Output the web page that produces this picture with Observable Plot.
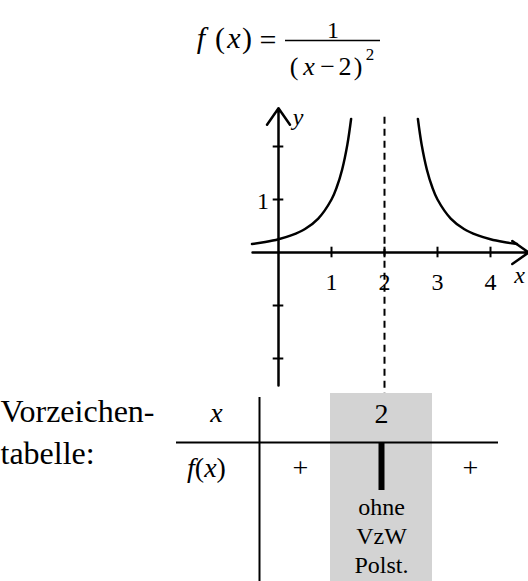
<!DOCTYPE html>
<html><head><meta charset="utf-8">
<script src="https://cdn.jsdelivr.net/npm/d3@7"></script>
<script src="https://cdn.jsdelivr.net/npm/@observablehq/plot@0.6"></script>
<style>
body{margin:0;background:#fff;}
#wrap{position:relative;width:528px;height:581px;overflow:hidden;font-family:'Liberation Serif','Times New Roman',serif;}
#formula{position:absolute;left:0;top:0;font-family:'Liberation Serif','Times New Roman',serif;}
#graph{position:absolute;left:0;top:85px;}
#table{position:absolute;left:0;top:393px;}
</style></head>
<body>
<div id="wrap">
<svg id="formula" width="528" height="85">
  <text x="201" y="48" font-size="30" font-style="italic" text-anchor="middle">f</text>
  <text x="220" y="48" font-size="30" text-anchor="middle">(</text>
  <text x="234" y="48" font-size="30" font-style="italic" text-anchor="middle">x</text>
  <text x="247" y="48" font-size="30" text-anchor="middle">)</text>
  <text x="268" y="50" font-size="30" text-anchor="middle">=</text>
  <line x1="285" x2="380" y1="40.5" y2="40.5" stroke="#000" stroke-width="1.6"/>
  <text x="333" y="38" font-size="24" text-anchor="middle">1</text>
  <text x="294" y="75" font-size="26" text-anchor="middle">(</text>
  <text x="309" y="75" font-size="26" font-style="italic" text-anchor="middle">x</text>
  <text x="327.5" y="75" font-size="26" text-anchor="middle">−</text>
  <text x="345" y="75" font-size="26" text-anchor="middle">2</text>
  <text x="358" y="75" font-size="26" text-anchor="middle">)</text>
  <text x="370" y="60" font-size="17" text-anchor="middle">2</text>
</svg>
<div id="graph"></div>
<div id="table"></div>
</div>
<script>
// Function values f(x) = 1/(x-2)^2, read along the two branches
const leftX  = [-0.5, -0.25, 0, 0.25, 0.5, 0.75, 1, 1.1, 1.2, 1.3, 1.37];
const leftY  = [0.16, 0.198, 0.25, 0.327, 0.444, 0.64, 1, 1.235, 1.5625, 2.04, 2.52];
const rightX = [2.63, 2.7, 2.8, 2.9, 3, 3.25, 3.5, 3.75, 4, 4.25, 4.5];
const rightY = [2.52, 2.04, 1.5625, 1.235, 1, 0.64, 0.444, 0.327, 0.25, 0.198, 0.16];
const xTicks = [1, 2, 3, 4];
const xTickLabels = ["1", "2", "3", "4"];
const yTicks = [-2, -1, 1, 2];
const yTickLabels = [{v: 1, label: "1"}];
const pole = 2;

// Sign table content
const headerLabels = ["x", "2"];
const signRowLabel = "f(x)";
const signs = ["+", "+"];
const poleNote = ["ohne", "VzW", "Polst."];
const tableTitle = ["Vorzeichen-", "tabelle:"];

const unit = 53;
const W = 528;
const xDomain = [-278 / unit, 250 / unit];
const font = "'Liberation Serif', 'Times New Roman', serif";

const points = [
  ...leftX.map((x, i) => ({x, y: leftY[i], b: "L"})),
  ...rightX.map((x, i) => ({x, y: rightY[i], b: "R"}))
];

const H1 = 308;
const yBottom = -(H1 - 167) / unit;
const graph = Plot.plot({
  width: W, height: H1,
  marginTop: 0, marginBottom: 0, marginLeft: 0, marginRight: 0,
  x: {domain: xDomain, axis: null},
  y: {domain: [yBottom, 167 / unit], axis: null},
  style: {fontFamily: font, background: "transparent", overflow: "visible"},
  marks: [
    Plot.ruleX([pole], {y1: 2.55, y2: yBottom, stroke: "#000", strokeWidth: 2, strokeDasharray: "7,5"}),
    Plot.arrow([0], {x1: -0.49, x2: 4.72, y1: 0, y2: 0, stroke: "#000", strokeWidth: 2.5, headLength: 12, headAngle: 70}),
    Plot.arrow([0], {x1: 0, x2: 0, y1: -2.51, y2: 2.72, stroke: "#000", strokeWidth: 2.5, headLength: 12, headAngle: 70}),
    Plot.ruleX(xTicks, {x: d => d, y1: -0.1, y2: 0.1, stroke: "#000", strokeWidth: 2}),
    Plot.ruleY(yTicks, {y: d => d, x1: -0.1, x2: 0.1, stroke: "#000", strokeWidth: 2}),
    Plot.text(xTicks, {x: d => d, y: 0, text: (d, i) => xTickLabels[i], dy: 30, fontSize: 24, fill: "#000"}),
    Plot.text(yTickLabels, {x: 0, y: "v", text: "label", dx: -15.5, dy: 2, fontSize: 24, fill: "#000"}),
    Plot.text(["x"], {x: 4.72, y: 0, text: d => d, dx: -9, dy: 23, fontSize: 24, fontStyle: "italic", fill: "#000"}),
    Plot.text(["y"], {x: 0, y: 2.72, text: d => d, dx: 19.5, dy: 9, fontSize: 24, fontStyle: "italic", fill: "#000"}),
    Plot.line(points, {x: "x", y: "y", z: "b", stroke: "#000", strokeWidth: 2.5, curve: "catmull-rom"})
  ]
});
document.getElementById("graph").appendChild(graph);

const H2 = 188;
const toX = px => (px - 278) / unit;
const table = Plot.plot({
  width: W, height: H2,
  marginTop: 0, marginBottom: 0, marginLeft: 0, marginRight: 0,
  x: {domain: xDomain, axis: null},
  y: {domain: [0, H2], range: [0, H2], axis: null},
  style: {fontFamily: font, background: "transparent", overflow: "visible"},
  marks: [
    Plot.rectY([0], {x1: toX(330), x2: toX(432), y1: 0, y2: H2, fill: "#d3d3d3"}),
    Plot.ruleX([toX(259)], {x: d => d, y1: 4, y2: H2, stroke: "#000", strokeWidth: 2}),
    Plot.ruleY([49], {y: d => d, x1: toX(176), x2: toX(498), stroke: "#000", strokeWidth: 2}),
    Plot.ruleX([toX(381)], {x: d => d, y1: 49, y2: 97, stroke: "#000", strokeWidth: 6}),
    Plot.text(tableTitle, {x: xDomain[0], y: (d, i) => [18, 60][i], text: d => d, textAnchor: "start", fontSize: 32, fill: "#000"}),
    Plot.text([headerLabels[0]], {x: toX(216), y: 20, text: d => d, fontSize: 28, fontStyle: "italic", fill: "#000"}),
    Plot.text([headerLabels[1]], {x: toX(381), y: 21, text: d => d, fontSize: 28, fill: "#000"}),
    Plot.text([signRowLabel], {x: toX(206), y: 75, text: d => d, fontSize: 28, fill: "#000"}),
    Plot.text(signs, {x: (d, i) => toX([300, 470][i]), y: 75, text: d => d, fontSize: 28, fill: "#000"}),
    Plot.text(poleNote, {x: toX(381), y: (d, i) => 114 + 29 * i, text: d => d, fontSize: 24, fill: "#000"})
  ]
});
document.getElementById("table").appendChild(table);
// italic f and x in f(x)
table.querySelectorAll("text").forEach(t => {
  if (t.textContent === "f(x)") {
    t.innerHTML = '<tspan font-style="italic">f</tspan>(<tspan font-style="italic">x</tspan>)';
  }
});
</script>
</body></html>
